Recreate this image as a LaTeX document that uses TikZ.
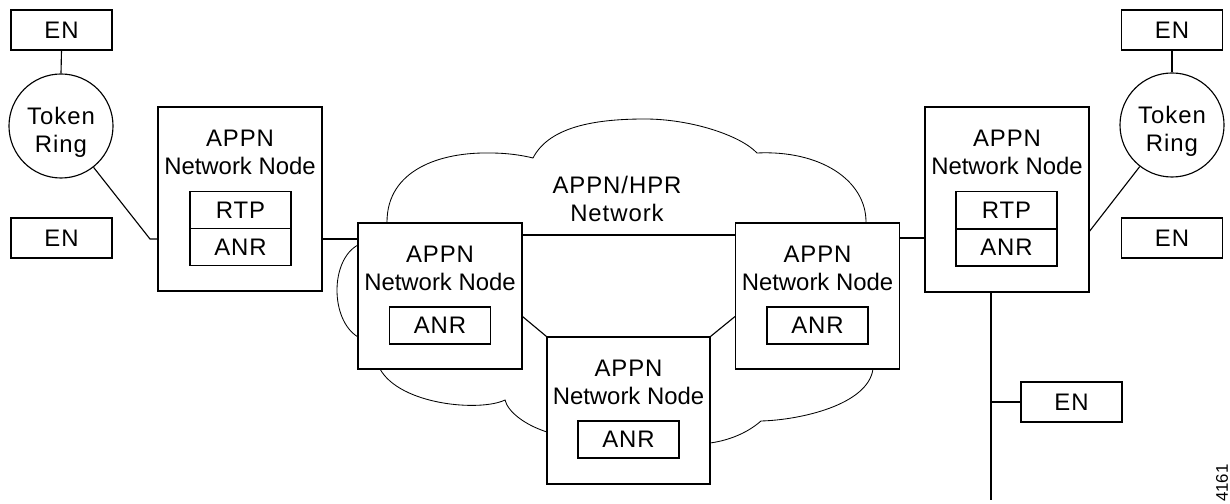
\documentclass[tikz,border=0pt]{standalone}
\usepackage{fontspec}
\setmainfont{Liberation Sans}
\newfontfamily\capsfont{Liberation Sans}[LetterSpace=4]

\begin{document}
\begin{tikzpicture}[x=0.025cm, y=-0.025cm,
	font=\fontsize{17}{20}\selectfont,
	box/.style={draw, line width=0.8pt, fill=white, inner sep=0pt},
	nnbox/.style={box, minimum width=4.1cm},
	enbox/.style={box, minimum width=2.525cm, minimum height=1cm, font=\fontsize{17}{20}\selectfont\capsfont},
	subbox/.style={box, minimum width=2.525cm, minimum height=0.925cm, font=\fontsize{17}{20}\selectfont\capsfont},
	ring/.style={draw, line width=0.8pt, fill=white, circle, minimum size=2.6cm, inner sep=0pt},
	title/.style={align=center, inner sep=0pt},
	link/.style={line width=0.8pt}]
  	\begin{scope}
	\useasboundingbox (0,0) rectangle (1230,504);

	% cloud
	\draw[line width=0.6pt] (387,222) .. controls (387,170) and (440,152) .. (490,153)
		.. controls (510,153) and (525,156) .. (533,158)
		.. controls (550,125) and (600,119) .. (645,119)
		.. controls (690,119) and (740,135) .. (757,153)
		.. controls (820,150) and (866,180) .. (866,222)
		-- (873,369)
		.. controls (868,405) and (800,420) .. (761,421)
		.. controls (745,435) and (725,441) .. (710,443)
		-- (547,432)
		.. controls (525,425) and (508,412) .. (505,400)
		.. controls (480,412) and (400,405) .. (380,369)
		-- (358,337)
		.. controls (330,320) and (330,260) .. (358,245)
		-- cycle;
	\node[title, font=\fontsize{17}{20}\selectfont\capsfont] (cloudtxt) at (617,199) {APPN/HPR\\Network};

	% left side
	\node[enbox] (enTL) at (61.5,30) {EN};
	\node[ring] (ringL) at (61,126) {};
	\node[title, font=\fontsize{17}{20}\selectfont\capsfont] (ringLtxt) at (61,132) {Token\\Ring};
	\node[enbox] (enBL) at (61.5,238) {EN};

	\node[nnbox, minimum height=4.6cm] (nnL) at (240,199) {};
	\node[title] (nnLtxt) at (240,152) {{\capsfont APPN}\\Network Node};
	\node[subbox] (rtpL) at (240.5,210) {RTP};
	\node[subbox] (anrL) at (240.5,247) {ANR};

	% cloud nodes
	\node[nnbox, minimum height=3.65cm] (nnML) at (440,296) {};
	\node[title] (nnMLtxt) at (440,268.5) {{\capsfont APPN}\\Network Node};
	\node[subbox] (anrML) at (440,325.5) {ANR};

	\node[nnbox, minimum width=4.075cm, minimum height=3.675cm] (nnB) at (628.5,410.5) {};
	\node[title] (nnBtxt) at (628.5,382) {{\capsfont APPN}\\Network Node};
	\node[subbox] (anrB) at (628.5,439.5) {ANR};

	\node[nnbox, minimum height=3.65cm] (nnMR) at (817.5,296) {};
	\node[title] (nnMRtxt) at (817.5,268.5) {{\capsfont APPN}\\Network Node};
	\node[subbox] (anrMR) at (817.5,325.5) {ANR};

	% right side
	\node[nnbox, minimum height=4.625cm] (nnR) at (1007,199.5) {};
	\node[title] (nnRtxt) at (1007,152) {{\capsfont APPN}\\Network Node};
	\node[subbox] (rtpR) at (1006.5,210) {RTP};
	\node[subbox] (anrR) at (1006.5,247.5) {ANR};

	\node[enbox] (enTR) at (1172,30) {EN};
	\node[ring] (ringR) at (1172,125) {};
	\node[title, font=\fontsize{17}{20}\selectfont\capsfont] (ringRtxt) at (1172,131) {Token\\Ring};
	\node[enbox] (enBR) at (1172,238) {EN};
	\node[enbox] (enR2) at (1071.5,402) {EN};

	\node[rotate=90, inner sep=0pt, font=\fontsize{12}{14}\selectfont] (fig) at (1222,483) {4161};

	% links
	\coordinate (kL) at (150,239);
	\coordinate (kT) at (630,235);
	\coordinate (kR) at (912,238);
	\coordinate (bus) at (991,500);

	\draw[link] (enTL.south) -- (ringL.north);
	\draw[link] (ringL) -- (kL) -- (kL -| nnL.west);
	\draw[link] (nnL.east |- kL) -- (nnML.west |- kL);
	\draw[link] (nnML.east |- kT) -- (nnMR.west |- kT);
	\draw[link] (nnML.-14) -- (nnB.north west);
	\draw[link] (nnB.north east) -- (nnMR.194);
	\draw[link] (nnMR.east |- kR) -- (nnR.west |- kR);
	\draw[link] (nnR.-21.6) -- (ringR);
	\draw[link] (enTR.south) -- (ringR.north);
	\draw[link] (nnR.south -| bus) -- (bus);
	\draw[link] (bus |- enR2.west) -- (enR2.west);
  	\end{scope}
\end{tikzpicture}
\end{document}
